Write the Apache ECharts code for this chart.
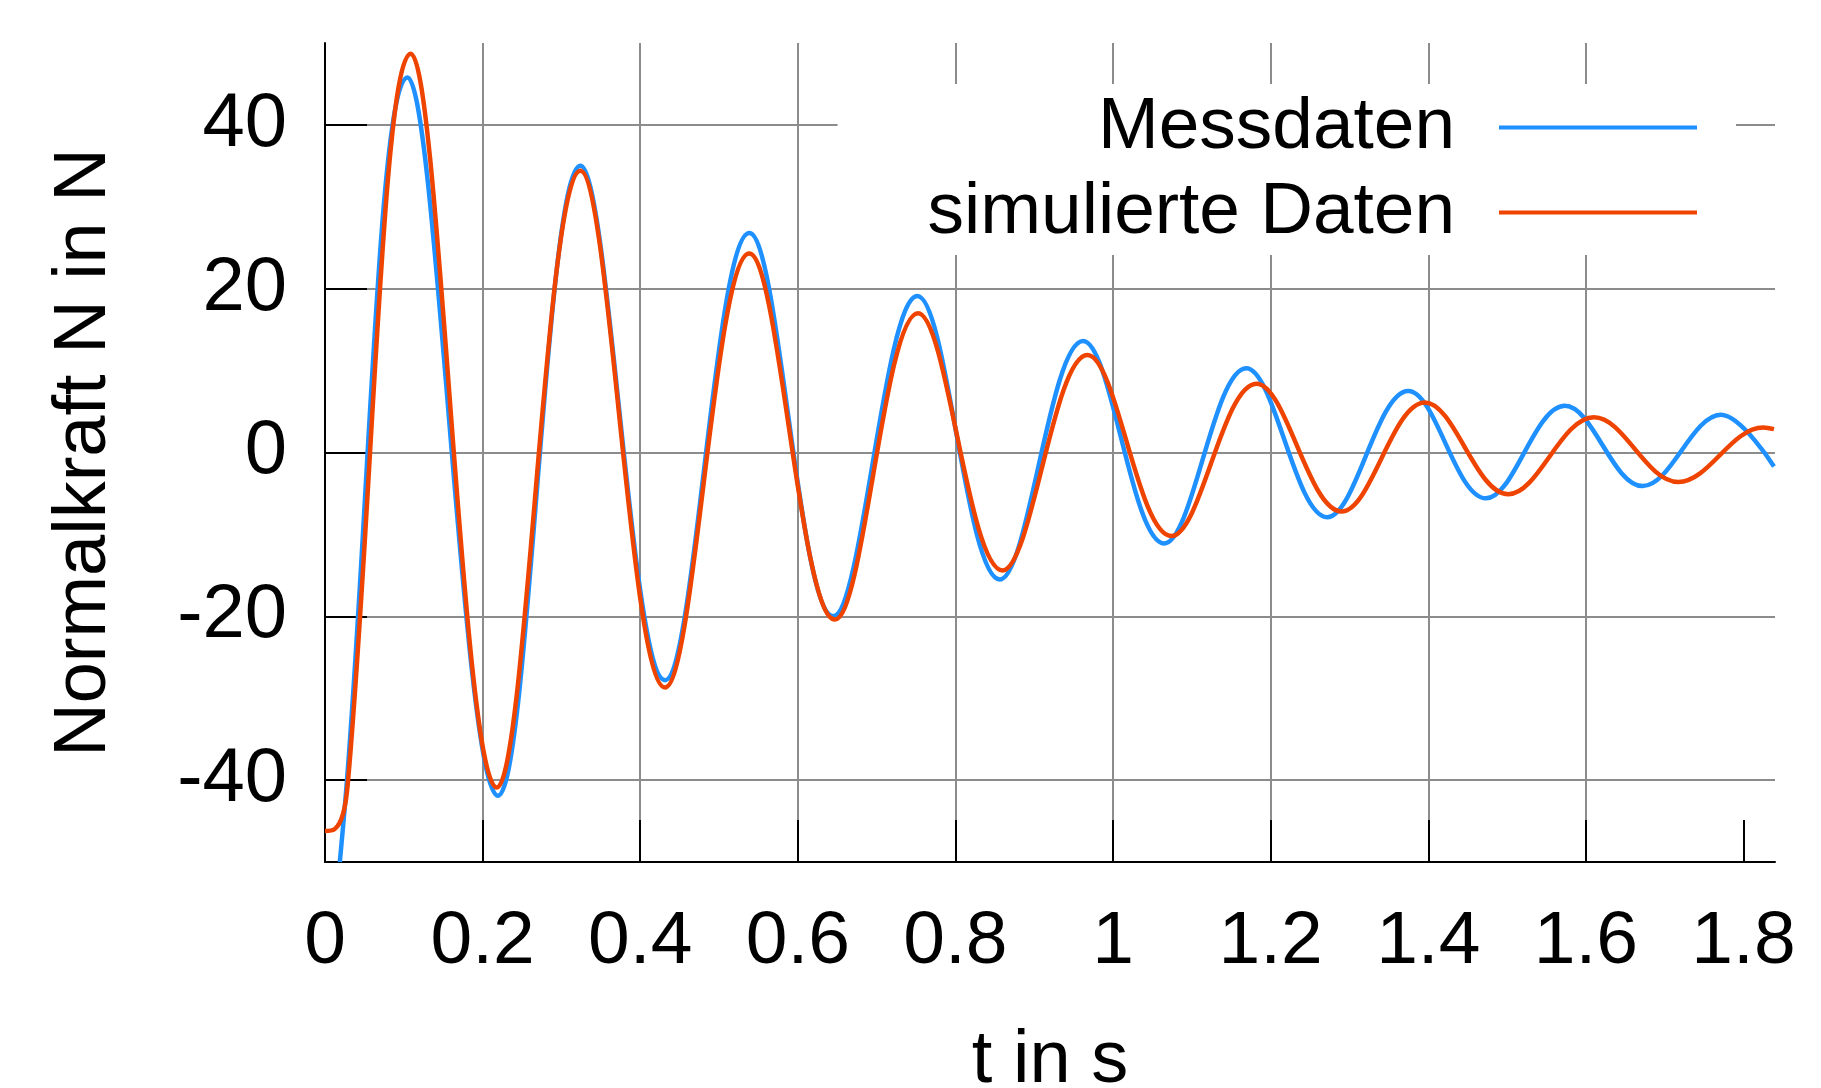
<!DOCTYPE html>
<html>
<head>
<meta charset="utf-8">
<script src="https://cdn.jsdelivr.net/npm/echarts@6/dist/echarts.min.js"></script>
<style>
html,body{margin:0;padding:0;background:#fff;}
#c{width:1821px;height:1088px;}
</style>
</head>
<body>
<div id="c"></div>
<script>
// Tick values
const xTicks = [0, 0.2, 0.4, 0.6, 0.8, 1, 1.2, 1.4, 1.6, 1.8];
const yTicks = [-40, -20, 0, 20, 40];

// Messdaten (measured) – time in s, force in N (entry, then peaks and troughs, end)
const messT = [0.0188, 0.0251, 0.1046, 0.2195, 0.324, 0.4315, 0.5385, 0.645, 0.7518, 0.8563, 0.962, 1.0648, 1.169, 1.2718, 1.3746, 1.4732, 1.5734, 1.672, 1.7714, 1.8387];
const messN = [-50, -43.3, 45.8, -41.9, 35.0, -27.8, 26.8, -20.0, 19.1, -15.5, 13.6, -11.1, 10.3, -7.9, 7.5, -5.6, 5.7, -4.1, 4.6, -1.7];

// simulierte Daten (simulated) – start plateau, then peaks and troughs, end
const simT = [0, 0.012, 0.023, 0.0293, 0.1088, 0.218, 0.324, 0.4315, 0.5385, 0.647, 0.7526, 0.8597, 0.9675, 1.074, 1.182, 1.29, 1.3958, 1.5015, 1.6102, 1.7173, 1.8251, 1.8387];
const simN = [-46.2, -46.0, -44.1, -40, 48.7, -40.9, 34.4, -28.7, 24.3, -20.4, 17.0, -14.4, 11.9, -10.2, 8.4, -7.2, 6.1, -5.1, 4.3, -3.6, 3.05, 2.85];

const seriesNames = ['Messdaten', 'simulierte Daten'];
const seriesColors = ['#1E90FF', '#EE4400'];

const zip = (a, b) => a.map((v, i) => [v, b[i]]);

const FONT = "'Liberation Sans', Arial, Helvetica, sans-serif";
const chart = echarts.init(document.getElementById('c'), null, {renderer: 'canvas'});
chart.setOption({
  animation: false,
  backgroundColor: '#ffffff',
  textStyle: {fontFamily: FONT},
  grid: {left: 325, right: 46, top: 43, bottom: 226, containLabel: false, outerBoundsMode: 'none'},
  legend: {
    data: seriesNames,
    orient: 'vertical',
    align: 'right',
    right: 85,
    top: 84,
    backgroundColor: '#ffffff',
    padding: [7, 39, 6, 90],
    itemGap: 12,
    icon: 'rect',
    itemWidth: 198,
    itemHeight: 4,
    textStyle: {fontSize: 73, color: '#000', fontFamily: FONT, padding: [0, 39, 0, 0]}
  },
  xAxis: {
    type: 'value', min: 0, max: 1.84, interval: 0.2,
    name: 't in s', nameLocation: 'middle', nameGap: 163,
    nameTextStyle: {fontSize: 74, color: '#000', fontFamily: FONT},
    axisLine: {onZero: false, lineStyle: {color: '#000', width: 2}},
    axisTick: {inside: true, length: 42, customValues: xTicks, lineStyle: {color: '#000', width: 2}},
    axisLabel: {customValues: xTicks, fontSize: 75, color: '#000', margin: 43, fontFamily: FONT},
    splitLine: {show: true, showMaxLine: false, lineStyle: {color: '#8c8c8c', width: 2}}
  },
  yAxis: {
    type: 'value', min: -50, max: 50, interval: 10,
    name: 'Normalkraft N in N', nameLocation: 'middle', nameGap: 203,
    nameTextStyle: {fontSize: 74, color: '#000', fontFamily: FONT},
    axisLine: {show: true, onZero: false, lineStyle: {color: '#000', width: 2}},
    axisTick: {show: true, inside: true, length: 42, customValues: yTicks, lineStyle: {color: '#000', width: 2}},
    axisLabel: {customValues: yTicks, fontSize: 76, color: '#000', margin: 38, fontFamily: FONT},
    splitLine: {show: true, lineStyle: {color: '#8c8c8c', width: 2}}
  },
  series: [
    {name: seriesNames[0], type: 'line', data: zip(messT, messN), smooth: 0.37, symbol: 'none',
     lineStyle: {color: seriesColors[0], width: 4.5}, itemStyle: {color: seriesColors[0]}, z: 2},
    {name: seriesNames[1], type: 'line', data: zip(simT, simN), smooth: 0.37, symbol: 'none',
     lineStyle: {color: seriesColors[1], width: 4.5}, itemStyle: {color: seriesColors[1]}, z: 3}
  ]
});
</script>
</body>
</html>
